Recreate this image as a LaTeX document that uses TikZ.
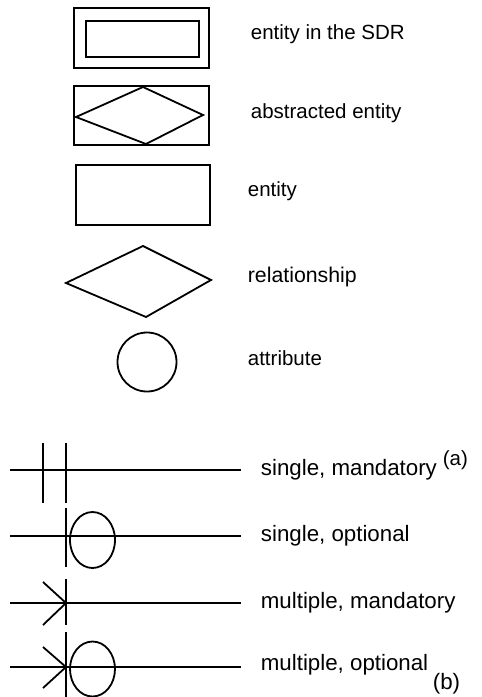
\documentclass[tikz,border=0pt]{standalone}
\usepackage{fontspec}
\setmainfont{Liberation Sans}
\usetikzlibrary{positioning}

\begin{document}
\begin{tikzpicture}[x=1pt,y=-1pt,line width=1.8pt,
  etiq/.style={anchor=west,inner sep=0pt,font=\fontsize{20.5}{24}\selectfont},
  etiqb/.style={etiq,font=\fontsize{22.3}{26}\selectfont}]
  \useasboundingbox (0,0) rectangle (482,697);
  % (a) Entidad en el SDR
  \draw (74,8) rectangle (209,68); \draw (86,21) rectangle (199,57);
  \node[etiq] (sdr) at (250,34) {entity in the SDR};
  % Entidad abstraida
  \draw (74,86) rectangle (209,145);
  \draw (76,117) -- (143,87) -- (203,115) -- (146,144) -- cycle;
  \node[etiq] (abst) at (250,113) {abstracted entity};
  % Entidad
  \draw (76,165) rectangle (210,225);
  \node[etiq] (ent) at (247,191) {entity};
  % Relacion
  \draw (66,283) -- (143,246) -- (211,280) -- (146,317) -- cycle;
  \node[etiq,font=\fontsize{21.3}{25}\selectfont] (rel) at (247,277) {relationship};
  % Atributo
  \draw (147,362) circle (29.5);
  \node[etiq] (atr) at (247,358) {attribute};
  \node[etiq] (parta) at (442,460) {(a)};
  % (b) single, mandatory
  \draw (10,470) -- (241,470);
  \draw (43,443) -- (43,503); \draw (66,443) -- (66,503);
  \node[etiqb] (sm) at (260,470) {single, mandatory};
  % single, optional
  \draw (10,536) -- (241,536);
  \draw (66,508) -- (66,567);
  \draw (92.5,540) ellipse (22.5 and 28);
  \node[etiqb] (so) at (260,536) {single, optional};
  % multiple, mandatory
  \draw (10,603) -- (241,603);
  \draw (66,579) -- (66,625);
  \draw (43,582) -- (66,603) -- (43,625);
  \node[etiqb] (mm) at (260,603) {multiple, mandatory};
  % multiple, optional
  \draw (10,667) -- (241,667);
  \draw (66,632) -- (66,697);
  \draw (43,647) -- (66,667) -- (43,688);
  \draw (92.5,669) ellipse (22.5 and 27.5);
  \node[etiqb] (mo) at (260,665) {multiple, optional};
  \node[etiqb] (partb) at (432,684) {(b)};
\end{tikzpicture}
\end{document}
